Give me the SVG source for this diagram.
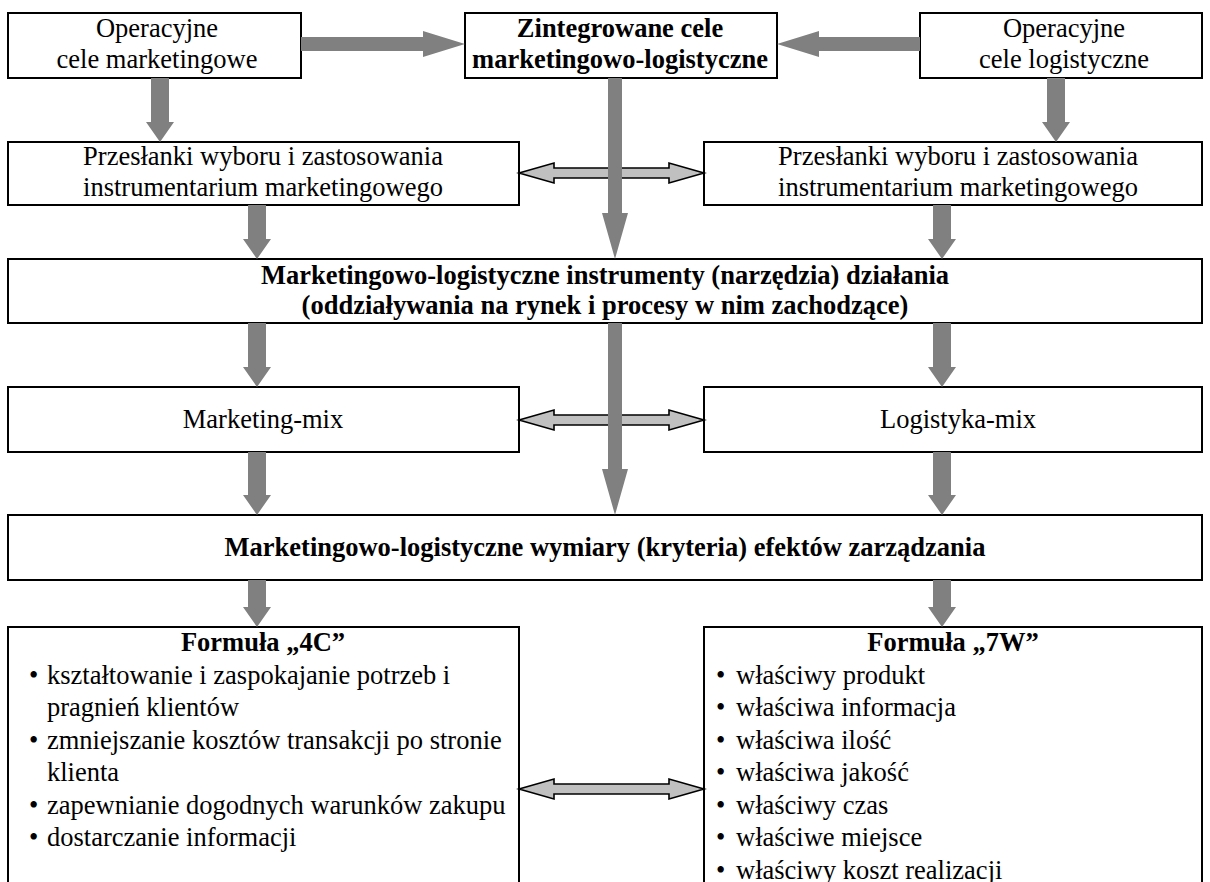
<svg xmlns="http://www.w3.org/2000/svg" width="1210" height="882" viewBox="0 0 1210 882">
<style>
.box{fill:#fff;stroke:#000;stroke-width:2}
.t{font-family:"Liberation Serif","Times New Roman",serif;font-size:26.5px;fill:#000}
.c{text-anchor:middle}
.b{font-weight:bold}
.arr{fill:#808080}
.dbl{fill:#c0c0c0;stroke:#000;stroke-width:1.6;stroke-linejoin:miter}
</style>
<rect width="1210" height="882" fill="#fff"/>
<g id="n1"><rect class="box" x="8" y="13" width="293" height="65"/><text class="t c" x="157" y="37">Operacyjne</text><text class="t c" x="157" y="68">cele marketingowe</text></g>
<g id="n2"><rect class="box" x="465" y="13" width="312" height="65"/><text class="t c b" x="620" y="37">Zintegrowane cele</text><text class="t c b" x="620" y="68">marketingowo-logistyczne</text></g>
<g id="n3"><rect class="box" x="920" y="13" width="282" height="65"/><text class="t c" x="1064" y="37">Operacyjne</text><text class="t c" x="1064" y="68">cele logistyczne</text></g>
<g id="n4"><rect class="box" x="8" y="142" width="511" height="63"/><text class="t c" x="263" y="165">Przesłanki wyboru i zastosowania</text><text class="t c" x="263" y="196">instrumentarium marketingowego</text></g>
<g id="n5"><rect class="box" x="704" y="142" width="498" height="63"/><text class="t c" x="958" y="165">Przesłanki wyboru i zastosowania</text><text class="t c" x="958" y="196">instrumentarium marketingowego</text></g>
<g id="n6"><rect class="box" x="8" y="259" width="1194" height="64"/><text class="t c b" x="605" y="284">Marketingowo-logistyczne instrumenty (narzędzia) działania</text><text class="t c b" x="605" y="314">(oddziaływania na rynek i procesy w nim zachodzące)</text></g>
<g id="n7"><rect class="box" x="8" y="387" width="511" height="65"/><text class="t c" x="263" y="428">Marketing-mix</text></g>
<g id="n8"><rect class="box" x="704" y="387" width="498" height="65"/><text class="t c" x="958" y="428">Logistyka-mix</text></g>
<g id="n9"><rect class="box" x="8" y="515" width="1194" height="65"/><text class="t c b" x="605" y="556">Marketingowo-logistyczne wymiary (kryteria) efektów zarządzania</text></g>
<g id="n10"><rect class="box" x="8" y="627" width="511" height="280"/>
<text class="t c b" x="263" y="651">Formuła „4C”</text>
<text class="t" x="29" y="683.5">•</text><text class="t" x="47" y="683.5">kształtowanie i zaspokajanie potrzeb i</text>
<text class="t" x="47" y="716">pragnień klientów</text>
<text class="t" x="29" y="748.5">•</text><text class="t" x="47" y="748.5">zmniejszanie kosztów transakcji po stronie</text>
<text class="t" x="47" y="781">klienta</text>
<text class="t" x="29" y="813.5">•</text><text class="t" x="47" y="813.5">zapewnianie dogodnych warunków zakupu</text>
<text class="t" x="29" y="846">•</text><text class="t" x="47" y="846">dostarczanie informacji</text>
</g>
<g id="n11"><rect class="box" x="704" y="627" width="498" height="280"/>
<text class="t c b" x="953" y="651">Formuła „7W”</text>
<text class="t" x="716" y="683.5">•</text><text class="t" x="736" y="683.5">właściwy produkt</text>
<text class="t" x="716" y="716">•</text><text class="t" x="736" y="716">właściwa informacja</text>
<text class="t" x="716" y="748.5">•</text><text class="t" x="736" y="748.5">właściwa ilość</text>
<text class="t" x="716" y="781">•</text><text class="t" x="736" y="781">właściwa jakość</text>
<text class="t" x="716" y="813.5">•</text><text class="t" x="736" y="813.5">właściwy czas</text>
<text class="t" x="716" y="846">•</text><text class="t" x="736" y="846">właściwe miejsce</text>
<text class="t" x="716" y="878.5">•</text><text class="t" x="736" y="878.5">właściwy koszt realizacji</text>
</g>
<g id="connectors">
<path class="dbl" d="M519,173 L554,163 L554,168 L669,168 L669,163 L704,173 L669,183 L669,178 L554,178 L554,183 Z"/>
<path class="dbl" d="M519,420 L554,410 L554,415 L669,415 L669,410 L704,420 L669,430 L669,425 L554,425 L554,430 Z"/>
<path class="dbl" d="M519,789 L554,779 L554,784 L669,784 L669,779 L704,789 L669,799 L669,794 L554,794 L554,799 Z"/>
<path class="arr" d="M301,37 L423,37 L423,31 L465,44 L423,57 L423,51 L301,51 Z"/>
<path class="arr" d="M920,37 L819,37 L819,31 L777,44 L819,57 L819,51 L920,51 Z"/>
<path class="arr" d="M151,78 L169,78 L169,122 L174,122 L160,142 L146,122 L151,122 Z"/>
<path class="arr" d="M1047,78 L1065,78 L1065,122 L1070,122 L1056,142 L1042,122 L1047,122 Z"/>
<path class="arr" d="M248,205 L266,205 L266,239 L271,239 L257,259 L243,239 L248,239 Z"/>
<path class="arr" d="M933,205 L951,205 L951,239 L956,239 L942,259 L928,239 L933,239 Z"/>
<path class="arr" d="M248,323 L266,323 L266,367 L271,367 L257,387 L243,367 L248,367 Z"/>
<path class="arr" d="M933,323 L951,323 L951,367 L956,367 L942,387 L928,367 L933,367 Z"/>
<path class="arr" d="M248,452 L266,452 L266,495 L271,495 L257,515 L243,495 L248,495 Z"/>
<path class="arr" d="M933,452 L951,452 L951,495 L956,495 L942,515 L928,495 L933,495 Z"/>
<path class="arr" d="M248,580 L266,580 L266,607 L271,607 L257,627 L243,607 L248,607 Z"/>
<path class="arr" d="M933,580 L951,580 L951,607 L956,607 L942,627 L928,607 L933,607 Z"/>
<path class="arr" d="M608,78 L622,78 L622,213 L628,213 L615,259 L602,213 L608,213 Z"/>
<path class="arr" d="M608,323 L622,323 L622,469 L628,469 L615,515 L602,469 L608,469 Z"/>
</g>
</svg>
